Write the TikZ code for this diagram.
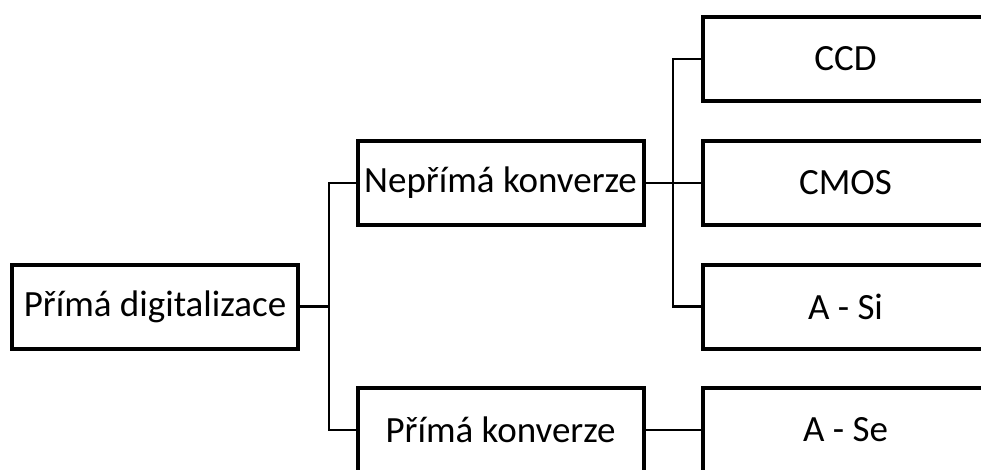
\documentclass[tikz,border=0pt]{standalone}
\usepackage{fontspec}
\setmainfont{Carlito}
\begin{document}
\begin{tikzpicture}[x=1pt,y=1pt,
  box/.style={draw, line width=4pt, minimum width=286pt, minimum height=84pt, inner sep=0pt, font=\fontsize{37}{40}\selectfont},
  conn/.style={line width=2.2pt}]
\useasboundingbox (0,0) rectangle (981,-470);
\clip (0,0) rectangle (981,-470);
\node[box, minimum width=286pt] (root) at (155,-306.5) {Přímá digitalizace};
\node[box] (nep) at (500.5,-183) {Nepřímá konverze};
\node[box] (pk) at (500.5,-430) {Přímá konverze};
\node[box] (ccd) at (845.5,-59) {CCD};
\node[box] (cmos) at (845.5,-183) {CMOS};
\node[box] (asi) at (845.5,-306.5) {A - Si};
\node[box] (ase) at (845.5,-430) {A - Se};
\coordinate (b1) at (329,0);
\coordinate (b2) at (673,0);
\draw[conn] (root.east) -- (root.east -| b1);
\draw[conn] (nep.west) -- (nep.west -| b1) -- (pk.west -| b1) -- (pk.west);
\draw[conn] (nep.east) -- (cmos.west);
\draw[conn] (ccd.west) -- (ccd.west -| b2) -- (asi.west -| b2) -- (asi.west);
\draw[conn] (pk.east) -- (ase.west);
\end{tikzpicture}
\end{document}
